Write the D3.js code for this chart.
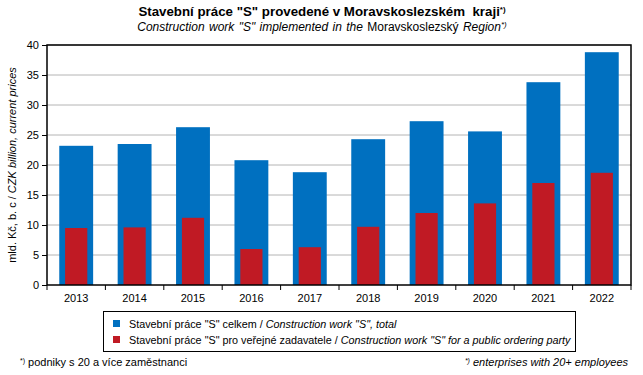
<!DOCTYPE html>
<html>
<head>
<meta charset="utf-8">
<script src="https://cdn.jsdelivr.net/npm/d3@7"></script>
<style>
    body { margin: 0; background: #fff; }
    svg { font-family: "Liberation Sans", Arial, sans-serif; }
    .grid line { stroke: #b4b4b4; stroke-width: 1; }
    .axis text { font-size: 11px; fill: #000; }
    .axis path, .axis line { stroke: #000; }
</style>
</head>
<body>
<svg id="chart" width="643" height="375"></svg>
<script>
const years = ["2013", "2014", "2015", "2016", "2017", "2018", "2019", "2020", "2021", "2022"];
const totalWork = [23.2, 23.5, 26.3, 20.8, 18.8, 24.3, 27.3, 25.6, 33.8, 38.8];
const publicWork = [9.5, 9.6, 11.2, 6.0, 6.3, 9.7, 12.0, 13.6, 17.0, 18.7];
const yTicks = [0, 5, 10, 15, 20, 25, 30, 35, 40];

const margin = {top: 45, right: 12, bottom: 90, left: 47};
const width = 643 - margin.left - margin.right;
const height = 375 - margin.top - margin.bottom;

const svg = d3.select("#chart");
const chart = svg.append("g").attr("transform", "translate(" + margin.left + "," + margin.top + ")");

const x = d3.scaleBand().domain(years).range([0, width]);
const y = d3.scaleLinear().domain([0, 40]).range([height, 0]);

// gridlines
chart.append("g").attr("class", "grid")
    .selectAll("line").data(yTicks.slice(1)).enter().append("line")
    .attr("x1", 0).attr("x2", width)
    .attr("y1", d => y(d)).attr("y2", d => y(d));

const blueW = x.bandwidth() * 0.58;
const redW = x.bandwidth() * 0.38;

chart.append("g").selectAll("rect").data(totalWork).enter().append("rect")
    .attr("x", (d, i) => x(years[i]) + (x.bandwidth() - blueW) / 2)
    .attr("width", blueW)
    .attr("y", d => y(d))
    .attr("height", d => height - y(d))
    .attr("fill", "#0070c0");

chart.append("g").selectAll("rect").data(publicWork).enter().append("rect")
    .attr("x", (d, i) => x(years[i]) + (x.bandwidth() - redW) / 2)
    .attr("width", redW)
    .attr("y", d => y(d))
    .attr("height", d => height - y(d))
    .attr("fill", "#c01a24");

// plot border
chart.append("rect").attr("x", 0).attr("y", 0).attr("width", width).attr("height", height)
    .attr("fill", "none").attr("stroke", "#000").attr("stroke-width", 1.5);

// y axis
const yAxis = chart.append("g").attr("class", "axis")
    .call(d3.axisLeft(y).tickValues(yTicks).tickSize(5).tickPadding(3));
yAxis.select(".domain").remove();

// x axis: ticks between categories
const xAxis = chart.append("g").attr("class", "axis").attr("transform", "translate(0," + height + ")");
xAxis.selectAll("line").data(d3.range(years.length + 1)).enter().append("line")
    .attr("x1", i => i * x.step()).attr("x2", i => i * x.step())
    .attr("y1", 0).attr("y2", 5).attr("stroke", "#000");
xAxis.selectAll("text").data(years).enter().append("text")
    .attr("x", d => x(d) + x.bandwidth() / 2)
    .attr("y", 17)
    .attr("text-anchor", "middle")
    .text(d => d);

// titles
const t1 = svg.append("text").attr("x", 322).attr("y", 16).attr("text-anchor", "middle")
    .style("font-size", "13.3px").style("font-weight", "bold");
t1.append("tspan").text('Stavební práce "S" provedené v Moravskoslezském  kraji').style("white-space", "pre");
t1.append("tspan").text("*)").style("font-size", "8px").attr("dy", -4);

const t2 = svg.append("text").attr("x", 322).attr("y", 31).attr("text-anchor", "middle")
    .style("font-size", "12px").style("word-spacing", "1px");
t2.append("tspan").text('Construction work "S" implemented in the ').style("font-style", "italic");
t2.append("tspan").text("Moravskoslezský ");
t2.append("tspan").text("Region").style("font-style", "italic");
t2.append("tspan").text("*)").style("font-size", "8px").attr("dy", -4).style("font-style", "italic");

// y axis title
const yt = svg.append("text").attr("transform", "translate(16," + (margin.top + height / 2) + ") rotate(-90)")
    .attr("text-anchor", "middle").style("font-size", "11px");
yt.append("tspan").text("mld. Kč,  b. c / ");
yt.append("tspan").text("CZK billion, current prices").style("font-style", "italic");

// legend
const legend = svg.append("g");
legend.append("rect").attr("x", 103.5).attr("y", 311.5).attr("width", 472).attr("height", 40)
    .attr("fill", "none").attr("stroke", "#000").attr("stroke-width", 1);
const legendItems = [
    {color: "#0070c0", plain: 'Stavební práce "S" celkem / ', ital: 'Construction work "S", total'},
    {color: "#c01a24", plain: 'Stavební práce "S" pro veřejné zadavatele / ', ital: 'Construction work "S" for a public ordering party'}
];
legendItems.forEach((d, i) => {
    const yy = 324 + i * 16;
    legend.append("rect").attr("x", 113).attr("y", yy - 4).attr("width", 7).attr("height", 7).attr("fill", d.color);
    const lt = legend.append("text").attr("x", 129).attr("y", yy + 4).style("font-size", "10.8px");
    lt.append("tspan").text(d.plain);
    lt.append("tspan").text(d.ital).style("font-style", "italic");
});

// footnotes
const f1 = svg.append("text").attr("x", 20).attr("y", 366).style("font-size", "11px");
f1.append("tspan").text("*)").style("font-size", "7px").attr("dy", -3);
f1.append("tspan").text(" podniky s 20 a více zaměstnanci").attr("dy", 3);

const f2 = svg.append("text").attr("x", 628).attr("y", 366).attr("text-anchor", "end")
    .style("font-size", "11px").style("font-style", "italic");
f2.append("tspan").text("*)").style("font-size", "7px").attr("dy", -3);
f2.append("tspan").text(" enterprises with 20+ employees").attr("dy", 3);
</script>
</body>
</html>
